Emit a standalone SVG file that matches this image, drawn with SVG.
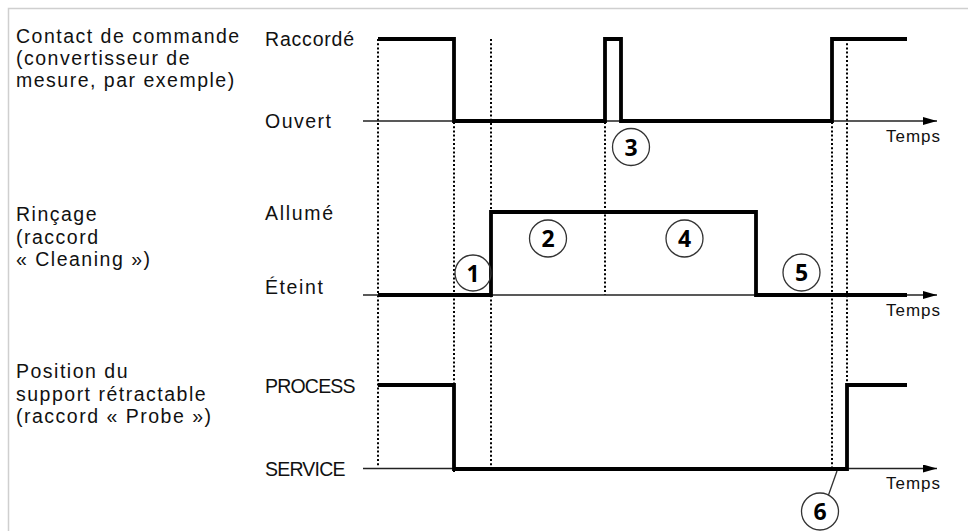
<svg xmlns="http://www.w3.org/2000/svg" width="968" height="531" viewBox="0 0 968 531">
  <defs>
    <marker id="arrow" markerUnits="userSpaceOnUse" markerWidth="14" markerHeight="8" refX="14" refY="4" orient="auto">
      <path d="M0,0 L14,4 L0,8 z" fill="#000"/>
    </marker>
    <style>
      .lbl { font-family: "Liberation Sans", Arial, sans-serif; font-size: 19.5px; fill: #111; letter-spacing: 1.5px; }
      .lvl { font-family: "Liberation Sans", Arial, sans-serif; font-size: 19.5px; fill: #111; letter-spacing: 1.5px; }
      .caps { letter-spacing: -0.8px; }
      .time { font-family: "Liberation Sans", Arial, sans-serif; font-size: 17px; fill: #111; letter-spacing: 1px; }
      .num { font-family: "Open Sans", "Liberation Sans", sans-serif; font-size: 23px; font-weight: bold; fill: #000; text-anchor: middle; }
      .axis { stroke: #222; stroke-width: 1.3; fill: none; }
      .trace { stroke: #000; stroke-width: 3.8; fill: none; stroke-linejoin: miter; stroke-linecap: butt; }
      .guide { stroke: #000; stroke-width: 2; stroke-dasharray: 2 2.2; fill: none; }
      .callout { stroke: #333; stroke-width: 1.3; fill: none; }
    </style>
  </defs>

  <rect width="968" height="531" fill="#fff"/>

  <!-- outer frame, open to the right and bottom -->
  <g id="frame">
    <rect x="8.5" y="8.5" width="980" height="540" fill="none" stroke="#cfcfcf" stroke-width="1.5"/>
  </g>

  <!-- vertical timing guides and callout leader -->
  <g id="connectors">
    <line class="guide" x1="378" y1="39" x2="378" y2="466"/>
    <line class="guide" x1="454" y1="122" x2="454" y2="472"/>
    <line class="guide" x1="491" y1="39" x2="491" y2="467"/>
    <line class="guide" x1="605" y1="122" x2="605" y2="295"/>
    <line class="guide" x1="832" y1="122" x2="832" y2="467"/>
    <line class="guide" x1="847" y1="39" x2="847" y2="385"/>
    <line class="callout" x1="828.5" y1="495" x2="837" y2="471"/>
  </g>

  <!-- control contact -->
  <g id="row-contact">
    <text class="lbl" x="16" y="42.5">Contact de commande</text>
    <text class="lbl" x="16" y="64.5">(convertisseur de</text>
    <text class="lbl" x="16" y="86.5">mesure, par exemple)</text>
    <text class="lvl" x="265" y="45.5" style="letter-spacing:0.8px">Raccordé</text>
    <text class="lvl" x="265" y="128">Ouvert</text>
    <line class="axis" x1="363" y1="121" x2="937" y2="121" marker-end="url(#arrow)"/>
    <text class="time" x="886" y="142">Temps</text>
    <polyline class="trace" points="378,39 454,39 454,121 605,121 605,39 621,39 621,121 832,121 832,39 907,39"/>
  </g>

  <!-- rinsing output -->
  <g id="row-rincage">
    <text class="lbl" x="16" y="221">Rinçage</text>
    <text class="lbl" x="16" y="243.5">(raccord</text>
    <text class="lbl" x="16" y="266">« Cleaning »)</text>
    <text class="lvl" x="265" y="219.5" style="letter-spacing:1.7px">Allumé</text>
    <text class="lvl" x="265" y="294" style="letter-spacing:1.6px">Éteint</text>
    <line class="axis" x1="363" y1="295" x2="937" y2="295" marker-end="url(#arrow)"/>
    <text class="time" x="886" y="316">Temps</text>
    <polyline class="trace" points="378,295 491,295 491,212 756,212 756,295 907,295"/>
  </g>

  <!-- retractable holder position -->
  <g id="row-position">
    <text class="lbl" x="16" y="378">Position du</text>
    <text class="lbl" x="16" y="400.5">support rétractable</text>
    <text class="lbl" x="16" y="423">(raccord « Probe »)</text>
    <text class="lvl caps" x="265" y="392.5">PROCESS</text>
    <text class="lvl caps" x="265" y="476">SERVICE</text>
    <line class="axis" x1="363" y1="468.5" x2="937" y2="468.5" marker-end="url(#arrow)"/>
    <text class="time" x="886" y="489">Temps</text>
    <polyline class="trace" points="378,385 454,385 454,469 847,469 847,385 907,385"/>
  </g>

  <!-- numbered callouts -->
  <g id="step-1"><circle class="callout" cx="473" cy="273" r="18"/><text class="num" x="473" y="281.5">1</text></g>
  <g id="step-2"><circle class="callout" cx="548" cy="238.5" r="18.5"/><text class="num" x="548" y="247">2</text></g>
  <g id="step-3"><circle class="callout" cx="631" cy="147" r="18.5"/><text class="num" x="631" y="155.5">3</text></g>
  <g id="step-4"><circle class="callout" cx="684.5" cy="238.5" r="18.5"/><text class="num" x="684.5" y="247">4</text></g>
  <g id="step-5"><circle class="callout" cx="801.5" cy="272.5" r="18.5"/><text class="num" x="801.5" y="281">5</text></g>
  <g id="step-6"><circle class="callout" cx="820" cy="511.5" r="18.5"/><text class="num" x="820" y="520">6</text></g>
</svg>
